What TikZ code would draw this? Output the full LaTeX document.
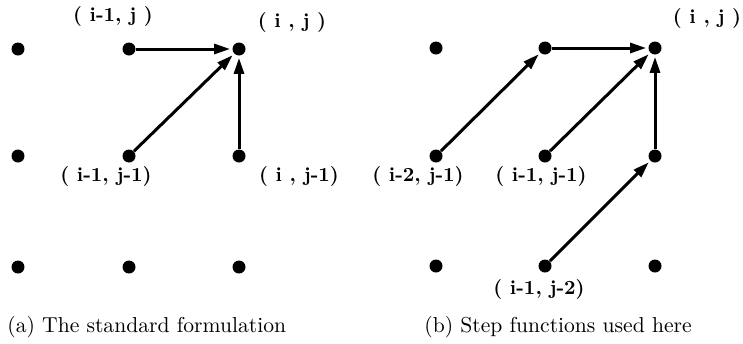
\documentclass[tikz,border=0pt]{standalone}
\usetikzlibrary{arrows.meta}
\begin{document}
\begin{tikzpicture}[
        x=0.5pt, y=-0.5pt,
        dot/.style={circle,fill,inner sep=0pt,minimum size=6.5pt},
        lbl/.style={font=\bfseries,inner sep=0pt},
        captext/.style={font=\fontsize{10.8}{13}\selectfont,inner sep=0pt},
        link/.style={-{Triangle[length=8pt,width=5pt]},line width=1.5pt,shorten >=1pt}
    ]
    \useasboundingbox (0,0) rectangle (743,343);

    % (a) grid
    \foreach \c/\x in {1/18,2/129,3/239}
        \foreach \r/\y in {1/49,2/156,3/267}
            \node[dot] (a\c\r) at (\x,\y) {};

    % (b) grid
    \foreach \c/\x in {1/436,2/545,3/655}
        \foreach \r/\y in {1/48,2/156,3/266}
            \node[dot] (b\c\r) at (\x,\y) {};

    % labels
    \node[lbl] (la21) at (113,16) {( i-1, j )};
    \node[lbl] (la31) at (292,22) {( i , j )};
    \node[lbl] (la22) at (106,176) {( i-1, j-1)};
    \node[lbl] (la32) at (299,176) {( i , j-1)};
    \node[lbl] (lb31) at (707,18) {( i , j )};
    \node[lbl] (lb12) at (418,176) {( i-2, j-1)};
    \node[lbl] (lb22) at (541,176) {( i-1, j-1)};
    \node[lbl] (lb23) at (539,289) {( i-1, j-2)};

    % captions
    \node[captext,anchor=west] (capa) at (7,327) {(a) The standard formulation};
    \node[captext] (capb) at (558,327) {(b) Step functions used here};

    % steps
    \draw[link] (a21) -- (a31);
    \draw[link] (a22) -- (a31);
    \draw[link] (a32) -- (a31);

    \draw[link] (b12) -- (b21);
    \draw[link] (b21) -- (b31);
    \draw[link] (b22) -- (b31);
    \draw[link] (b32) -- (b31);
    \draw[link] (b23) -- (b32);
\end{tikzpicture}
\end{document}
